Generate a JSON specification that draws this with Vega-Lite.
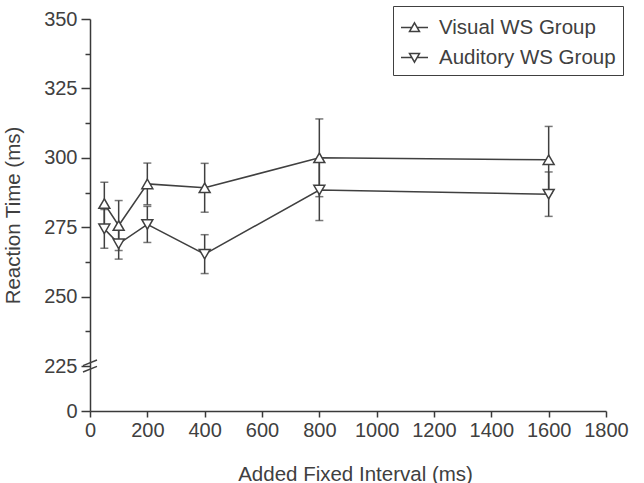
{
  "$schema": "https://vega.github.io/schema/vega-lite/v6.json",
  "width": 516,
  "height": 392,
  "autosize": "none",
  "padding": {"left": 90, "top": 19, "right": 38, "bottom": 72},
  "background": "white",
  "config": {
    "view": {"stroke": null},
    "font": "Liberation Sans",
    "axis": {
      "domainColor": "#3a3a3a",
      "domainWidth": 1.5,
      "tickColor": "#3a3a3a",
      "tickWidth": 1.5,
      "labelColor": "#404040",
      "labelFont": "Liberation Sans",
      "labelFontSize": 20,
      "titleFont": "Liberation Sans",
      "titleFontSize": 20.5,
      "titleFontWeight": "normal",
      "titleColor": "#404040",
      "grid": false,
      "labelOverlap": false,
      "labelBound": false,
      "labelFlush": false
    }
  },
  "datasets": {
    "rt": [
      {"group": "Visual WS Group", "interval": 50, "rt": 283.5, "err": 7.7},
      {"group": "Visual WS Group", "interval": 100, "rt": 275.6, "err": 9},
      {"group": "Visual WS Group", "interval": 200, "rt": 290.6, "err": 7.5},
      {"group": "Visual WS Group", "interval": 400, "rt": 289.2, "err": 8.8},
      {"group": "Visual WS Group", "interval": 800, "rt": 300, "err": 14},
      {"group": "Visual WS Group", "interval": 1600, "rt": 299.3, "err": 12},
      {"group": "Auditory WS Group", "interval": 50, "rt": 274.4, "err": 7},
      {"group": "Auditory WS Group", "interval": 100, "rt": 269, "err": 5.5},
      {"group": "Auditory WS Group", "interval": 200, "rt": 276, "err": 6.5},
      {"group": "Auditory WS Group", "interval": 400, "rt": 265.3, "err": 7},
      {"group": "Auditory WS Group", "interval": 800, "rt": 288.4, "err": 11},
      {"group": "Auditory WS Group", "interval": 1600, "rt": 286.9, "err": 8}
    ],
    "brk": [{"interval": 0, "rt": 225}]
  },
  "encoding": {
    "x": {
      "field": "interval",
      "type": "quantitative",
      "title": "Added Fixed Interval (ms)",
      "scale": {"domain": [0, 1800], "nice": false, "zero": false},
      "axis": {
        "values": [0, 200, 400, 600, 800, 1000, 1200, 1400, 1600, 1800],
        "format": "d",
        "tickSize": 6,
        "labelPadding": 3,
        "titlePadding": 24,
        "titleX": 265
      }
    },
    "y": {
      "field": "rt",
      "type": "quantitative",
      "title": "Reaction Time (ms)",
      "scale": {"domain": [0, 225, 350], "range": [392, 347, 0], "nice": false, "zero": false},
      "axis": {
        "values": [0, 225, 237.5, 250, 262.5, 275, 287.5, 300, 312.5, 325, 337.5, 350],
        "tickSize": {"condition": {"test": "datum.value % 25 != 0", "value": 5}, "value": 9},
        "labelExpr": "datum.value % 25 == 0 ? datum.label : ''",
        "labelPadding": 4,
        "titlePadding": 20
      }
    }
  },
  "resolve": {"scale": {"shape": "independent"}, "legend": {"shape": "independent"}},
  "layer": [
    {
      "data": {"name": "rt"},
      "mark": {"type": "errorbar", "ticks": true, "size": 8, "thickness": 1.5, "color": "#404040"},
      "encoding": {
        "yError": {"field": "err"},
        "detail": {"field": "group"}
      }
    },
    {
      "data": {"name": "rt"},
      "mark": {"type": "line", "color": "#404040", "strokeWidth": 1.5},
      "encoding": {
        "detail": {"field": "group"}
      }
    },
    {
      "data": {"name": "rt"},
      "mark": {"type": "point", "filled": true, "fill": "white", "stroke": "#404040", "strokeWidth": 1.5, "size": 120, "opacity": 1},
      "encoding": {
        "shape": {
          "field": "group",
          "type": "nominal",
          "scale": {"domain": ["Visual WS Group", "Auditory WS Group"], "range": ["triangle-up", "triangle-down"]},
          "legend": null
        }
      }
    },
    {
      "data": {"name": "rt"},
      "transform": [{"filter": "false"}],
      "mark": {"type": "point", "filled": false, "color": "#404040", "strokeWidth": 1.3, "opacity": 1},
      "encoding": {
        "shape": {
          "field": "group",
          "type": "nominal",
          "scale": {
            "domain": ["Visual WS Group", "Auditory WS Group"],
            "range": ["M-1,0L-0.2,0M0.2,0L1,0M0,-0.35L0.37,0.3L-0.37,0.3Z", "M-1,0L-0.2,0M0.2,0L1,0M0,0.35L0.37,-0.3L-0.37,-0.3Z"]
          },
          "legend": {
            "orient": "none",
            "legendX": 303,
            "legendY": -13,
            "title": null,
            "strokeColor": "#404040",
            "padding": 7,
            "symbolSize": 729,
            "labelFontSize": 20.5,
            "labelFont": "Liberation Sans",
            "labelColor": "#404040",
            "labelLimit": 400,
            "labelExpr": "datum.label + '\u2002'",
            "labelOffset": 10,
            "rowPadding": 5
          }
        }
      }
    },
    {
      "data": {"name": "brk"},
      "mark": {"type": "point", "shape": "M-1,-0.05L1,-0.85M-1,0.85L1,0.05", "size": 196, "stroke": "#404040", "strokeWidth": 1.5, "filled": false, "opacity": 1}
    }
  ]
}
